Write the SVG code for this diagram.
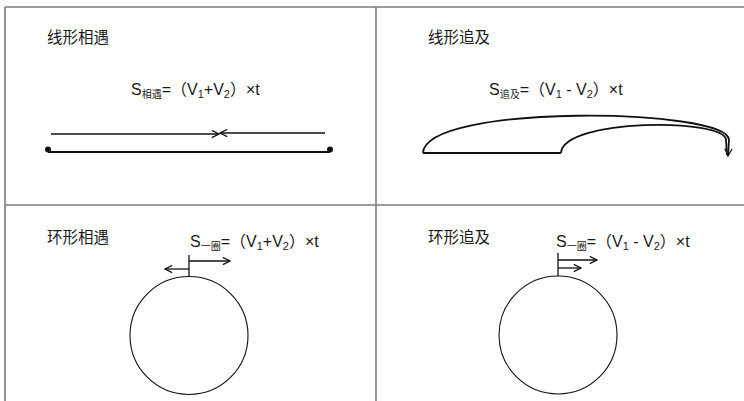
<svg xmlns="http://www.w3.org/2000/svg" width="744" height="401" viewBox="0 0 744 401">
<style>
.frame{stroke:#7a7a7a;stroke-width:1.6;fill:none}
.title{font-family:"Liberation Sans","Noto Sans CJK SC",sans-serif;font-size:15.5px;fill:#1a1a1a}
.f{font-family:"Liberation Sans","Noto Sans CJK SC",sans-serif;font-size:16px;fill:#1a1a1a}
.sub{font-size:10px}
.num{font-size:11px}
.ln{stroke:#111;stroke-width:1.3;fill:none}
.base{stroke:#111;stroke-width:1.8;fill:none}
.circ{stroke:#111;stroke-width:1.1;fill:#fff}
</style>
<defs>
<marker id="arr" viewBox="0 0 10 10" refX="9" refY="5" markerWidth="9" markerHeight="9" markerUnits="userSpaceOnUse" orient="auto">
<path d="M1,1 L9,5 L1,9" fill="none" stroke="#111" stroke-width="1.4"/>
</marker>
</defs>
<rect width="744" height="401" fill="#fff"/>
<g id="frame" class="frame">
<line x1="5" y1="7" x2="744" y2="7"/>
<line x1="5" y1="7" x2="5" y2="401"/>
<line x1="376" y1="7" x2="376" y2="401"/>
<line x1="5" y1="205" x2="744" y2="205"/>
</g>
<g id="panel-linear-meet">
<text class="title" x="47" y="43">线形相遇</text>
<text class="f" x="131" y="95">S<tspan class="sub" dy="3">相遇</tspan><tspan dy="-3">=（V</tspan><tspan class="num" dy="3">1</tspan><tspan dy="-3">+V</tspan><tspan class="num" dy="3">2</tspan><tspan dy="-3">）×t</tspan></text>
<circle cx="48" cy="149.5" r="3" fill="#111"/>
<circle cx="330" cy="149.5" r="3" fill="#111"/>
</g>
<g id="panel-linear-chase">
<text class="title" x="428" y="43">线形追及</text>
<text class="f" x="489" y="95">S<tspan class="sub" dy="3">追及</tspan><tspan dy="-3">=（V</tspan><tspan class="num" dy="3">1</tspan><tspan dy="-3"> - V</tspan><tspan class="num" dy="3">2</tspan><tspan dy="-3">）×t</tspan></text>
</g>
<g id="panel-ring-meet">
<text class="title" x="47" y="243">环形相遇</text>
<text class="f" x="190" y="247">S<tspan class="sub" dy="3">一圈</tspan><tspan dy="-3">=（V</tspan><tspan class="num" dy="3">1</tspan><tspan dy="-3">+V</tspan><tspan class="num" dy="3">2</tspan><tspan dy="-3">）×t</tspan></text>
<circle class="circ" cx="189" cy="335.5" r="59"/>
</g>
<g id="panel-ring-chase">
<text class="title" x="428" y="243">环形追及</text>
<text class="f" x="556" y="247">S<tspan class="sub" dy="3">一圈</tspan><tspan dy="-3">=（V</tspan><tspan class="num" dy="3">1</tspan><tspan dy="-3"> - V</tspan><tspan class="num" dy="3">2</tspan><tspan dy="-3">）×t</tspan></text>
<circle class="circ" cx="558" cy="335" r="59"/>
</g>
<g id="connectors">
<line class="ln" x1="51" y1="134" x2="219" y2="134" marker-end="url(#arr)"/>
<line class="ln" x1="325" y1="133" x2="220" y2="133" marker-end="url(#arr)"/>
<line class="base" x1="48" y1="152" x2="330" y2="152"/>
<line class="base" x1="423" y1="153" x2="561" y2="153"/>
<path class="base" d="M423,153 C425,103 729,108 729,140 L728,156" marker-end="url(#arr)"/>
<path class="base" d="M561,153 C563,118 726,118 726,140 L727,155"/>
<line class="ln" x1="189" y1="255" x2="189" y2="276.5"/>
<line class="ln" x1="189" y1="261" x2="230" y2="261" marker-end="url(#arr)"/>
<line class="ln" x1="189" y1="269" x2="165" y2="269" marker-end="url(#arr)"/>
<line class="ln" x1="558" y1="253" x2="558" y2="276"/>
<line class="ln" x1="558" y1="260" x2="597" y2="260" marker-end="url(#arr)"/>
<line class="ln" x1="558" y1="268" x2="581" y2="268" marker-end="url(#arr)"/>
</g>
</svg>
